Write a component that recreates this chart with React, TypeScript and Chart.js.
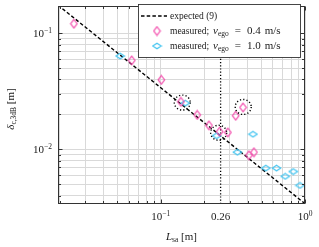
import React, { useEffect, useRef } from 'react';
import { Chart, registerables } from 'chart.js';
Chart.register(...registerables);

const W = 319;
const H = 247;

// axis ranges
const xMin = 0.0194;
const xMax = 1;
const yMin = 0.00338;
const yMax = 0.172;

// grid / tick positions
const xGridValues = [0.02, 0.03, 0.04, 0.05, 0.06, 0.07, 0.08, 0.09, 0.1, 0.2, 0.3, 0.4, 0.5, 0.6, 0.7, 0.8, 0.9, 1];
const yGridValues = [0.004, 0.005, 0.006, 0.007, 0.008, 0.009, 0.01, 0.02, 0.03, 0.04, 0.05, 0.06, 0.07, 0.08, 0.09, 0.1];
const xMajorValues = [0.1, 1];
const yMajorValues = [0.01, 0.1];
const xTickValues = [0.1, 0.26, 1];
const xTickBase = ['10', '0.26', '10'];
const xTickExp = ['−1', '', '0'];
const yTickValues = [0.01, 0.1];
const yTickBase = ['10', '10'];
const yTickExp = ['−2', '−1'];

// expected line (9)
const expectedL = [0.0194, 1];
const expectedDelta = [0.175, 0.0034];
const markerL = 0.26;

// measured, v_ego = 0.4 m/s
const slowL = [0.025, 0.063, 0.101, 0.138, 0.179, 0.216, 0.256, 0.292, 0.331, 0.372, 0.409, 0.443];
const slowDelta = [0.121, 0.0585, 0.0397, 0.0257, 0.0198, 0.0161, 0.0142, 0.014, 0.0195, 0.023, 0.0089, 0.00944];
// measured, v_ego = 1.0 m/s
const fastL = [0.0523, 0.148, 0.244, 0.34, 0.436, 0.535, 0.635, 0.729, 0.829, 0.923];
const fastDelta = [0.0637, 0.025, 0.0131, 0.00944, 0.0135, 0.00689, 0.00689, 0.00585, 0.00644, 0.00489];

// dotted highlight circles
const circledL = [0.141, 0.252, 0.373];
const circledDelta = [0.0253, 0.0139, 0.0232];

const legendLabels = ['expected (9)', 'measured;', 'measured;'];
const legendSpeeds = ['0.4', '1.0'];

const MAGENTA = '#f23fa6';
const CYAN = '#3ec3f0';
const GRID = '#d9d9d9';
const AXIS = '#333333';
const FONT = '"Liberation Serif", "DejaVu Serif", serif';

function diamond(w: number, h: number, color: string): HTMLCanvasElement {
  const c = document.createElement('canvas');
  c.width = Math.ceil(w + 2);
  c.height = Math.ceil(h + 2);
  const g = c.getContext('2d')!;
  const cx = c.width / 2;
  const cy = c.height / 2;
  g.strokeStyle = color;
  g.lineWidth = 1.1;
  g.beginPath();
  g.moveTo(cx, cy - h / 2);
  g.lineTo(cx + w / 2, cy);
  g.lineTo(cx, cy + h / 2);
  g.lineTo(cx - w / 2, cy);
  g.closePath();
  g.stroke();
  return c;
}

type Seg = { t: string; s: number; i?: boolean; dy?: number; gap?: number };

function font(s: number, i?: boolean) {
  return `${i ? 'italic ' : ''}${s}px ${FONT}`;
}

function segsWidth(ctx: CanvasRenderingContext2D, segs: Seg[]) {
  let w = 0;
  for (const sg of segs) {
    ctx.font = font(sg.s, sg.i);
    w += ctx.measureText(sg.t).width + (sg.gap || 0);
  }
  return w;
}

function drawSegs(ctx: CanvasRenderingContext2D, segs: Seg[], x: number, y: number, align: 'left' | 'center' | 'right') {
  const w = segsWidth(ctx, segs);
  let cx = align === 'left' ? x : align === 'center' ? x - w / 2 : x - w;
  ctx.textAlign = 'left';
  ctx.textBaseline = 'alphabetic';
  for (const sg of segs) {
    ctx.font = font(sg.s, sg.i);
    ctx.fillText(sg.t, cx, y + (sg.dy || 0));
    cx += ctx.measureText(sg.t).width + (sg.gap || 0);
  }
}

const decor = {
  id: 'decor',
  afterDatasetsDraw(chart: any) {
    const ctx: CanvasRenderingContext2D = chart.ctx;
    const xs = chart.scales.x;
    const ys = chart.scales.y;
    const a = chart.chartArea;
    ctx.save();
    // highlight circles
    ctx.strokeStyle = '#000';
    ctx.lineWidth = 1.4;
    ctx.setLineDash([1.2, 2.1]);
    for (let k = 0; k < circledL.length; k++) {
      const px = xs.getPixelForValue(circledL[k]);
      const py = ys.getPixelForValue(circledDelta[k]);
      ctx.beginPath();
      ctx.ellipse(px, py, 8, 7.5, 0, 0, Math.PI * 2);
      ctx.stroke();
    }
    ctx.setLineDash([]);
    // axis box
    const l = Math.round(a.left) + 0.5;
    const r = Math.round(a.right) - 0.5;
    const t = Math.round(a.top) + 0.5;
    const b = Math.round(a.bottom) - 0.5;
    ctx.strokeStyle = AXIS;
    ctx.lineWidth = 1;
    ctx.strokeRect(l, t, r - l, b - t);
    // inward ticks
    ctx.beginPath();
    for (const v of xGridValues) {
      const px = Math.round(xs.getPixelForValue(v)) + 0.5;
      const len = xMajorValues.includes(v) ? 4 : 2.5;
      ctx.moveTo(px, b);
      ctx.lineTo(px, b - len);
      ctx.moveTo(px, t);
      ctx.lineTo(px, t + len);
    }
    for (const v of yGridValues) {
      const py = Math.round(ys.getPixelForValue(v)) + 0.5;
      const len = yMajorValues.includes(v) ? 4 : 2.5;
      ctx.moveTo(l, py);
      ctx.lineTo(l + len, py);
      ctx.moveTo(r, py);
      ctx.lineTo(r - len, py);
    }
    ctx.stroke();
    ctx.restore();
  },
  afterDraw(chart: any) {
    const ctx: CanvasRenderingContext2D = chart.ctx;
    const xs = chart.scales.x;
    const ys = chart.scales.y;
    const a = chart.chartArea;
    ctx.save();
    ctx.fillStyle = '#1a1a1a';
    // x tick labels
    for (let k = 0; k < xTickValues.length; k++) {
      const px = xs.getPixelForValue(xTickValues[k]);
      const segs: Seg[] = [{ t: xTickBase[k], s: 11 }];
      if (xTickExp[k]) segs.push({ t: xTickExp[k], s: 7.5, dy: -4.5 });
      drawSegs(ctx, segs, px, a.bottom + 16, 'center');
    }
    // y tick labels
    for (let k = 0; k < yTickValues.length; k++) {
      const py = ys.getPixelForValue(yTickValues[k]);
      const segs: Seg[] = [
        { t: yTickBase[k], s: 11 },
        { t: yTickExp[k], s: 7.5, dy: -4.5 },
      ];
      drawSegs(ctx, segs, a.left - 6, py + 4, 'right');
    }
    // x title
    drawSegs(
      ctx,
      [
        { t: 'L', s: 11, i: true },
        { t: 'sa', s: 7.5, dy: 2 },
        { t: ' [m]', s: 11 },
      ],
      (a.left + a.right) / 2,
      240,
      'center'
    );
    // y title
    ctx.save();
    ctx.translate(14, (a.top + a.bottom) / 2 + 4);
    ctx.rotate(-Math.PI / 2);
    drawSegs(
      ctx,
      [
        { t: 'δ', s: 11, i: true },
        { t: 'c,3dB', s: 7.5, dy: 2 },
        { t: ' [m]', s: 11 },
      ],
      0,
      0,
      'center'
    );
    ctx.restore();

    // legend
    const x0 = 138;
    const y0 = 4;
    const x1 = 300;
    const y1 = 57;
    ctx.fillStyle = '#ffffff';
    ctx.fillRect(x0, y0, x1 - x0, y1 - y0);
    ctx.strokeStyle = AXIS;
    ctx.lineWidth = 0.9;
    ctx.strokeRect(x0 + 0.5, y0 + 0.5, x1 - x0, y1 - y0);
    const rows = [16, 31, 46];
    ctx.strokeStyle = '#000';
    ctx.lineWidth = 1.3;
    ctx.setLineDash([3.5, 2.2]);
    ctx.beginPath();
    ctx.moveTo(141, rows[0]);
    ctx.lineTo(167, rows[0]);
    ctx.stroke();
    ctx.setLineDash([]);
    const dm = diamond(6.5, 8.5, MAGENTA);
    const dc = diamond(8.5, 5.5, CYAN);
    ctx.drawImage(dm, 157 - dm.width / 2, rows[1] - dm.height / 2);
    ctx.drawImage(dc, 157 - dc.width / 2, rows[2] - dc.height / 2);
    ctx.fillStyle = '#1a1a1a';
    const ls = 9.5;
    drawSegs(ctx, [{ t: legendLabels[0], s: ls }], 170, rows[0] + 3, 'left');
    const row = (label: string, v: string): Seg[] => [
      { t: label, s: ls, gap: 4 },
      { t: 'v', s: 11, i: true },
      { t: 'ego', s: 7.5, dy: 2, gap: 6 },
      { t: '=', s: 11, gap: 6 },
      { t: v, s: 11, gap: 4 },
      { t: 'm/s', s: 11 },
    ];
    drawSegs(ctx, row(legendLabels[1], legendSpeeds[0]), 170, rows[1] + 3, 'left');
    drawSegs(ctx, row(legendLabels[2], legendSpeeds[1]), 170, rows[2] + 3, 'left');
    ctx.restore();
  },
};

export default function App() {
  const ref = useRef<HTMLCanvasElement>(null);
  useEffect(() => {
    const canvas = ref.current!;
    const slowImg = diamond(6.5, 8.5, MAGENTA);
    const fastImg = diamond(8.5, 5.5, CYAN);
    const chart = new Chart(canvas, {
      type: 'scatter',
      data: {
        datasets: [
          {
            label: 'measured; v_ego = 0.4 m/s',
            data: slowL.map((x, k) => ({ x, y: slowDelta[k] })),
            pointStyle: slowImg as any,
            pointRadius: 5,
            order: 0,
          },
          {
            label: 'measured; v_ego = 1.0 m/s',
            data: fastL.map((x, k) => ({ x, y: fastDelta[k] })),
            pointStyle: fastImg as any,
            pointRadius: 5,
            order: 1,
          },
          {
            label: 'expected (9)',
            data: expectedL.map((x, k) => ({ x, y: expectedDelta[k] })),
            showLine: true,
            borderColor: '#000',
            borderWidth: 1.4,
            borderDash: [3.5, 2.2],
            pointRadius: 0,
            order: 2,
          },
          {
            label: 'marker',
            data: [
              { x: markerL, y: yMin },
              { x: markerL, y: yMax },
            ],
            showLine: true,
            borderColor: '#000',
            borderWidth: 1.3,
            borderDash: [1.2, 2],
            pointRadius: 0,
            order: 3,
          },
        ] as any,
      },
      options: {
        responsive: false,
        animation: false,
        devicePixelRatio: 1,
        layout: { padding: { top: 1, right: 14, left: 0, bottom: 0 } },
        plugins: { legend: { display: false }, tooltip: { enabled: false } },
        scales: {
          x: {
            type: 'logarithmic',
            min: xMin,
            max: xMax,
            afterBuildTicks: (s: any) => {
              s.ticks = xGridValues.map((v) => ({ value: v }));
            },
            afterFit: (s: any) => {
              s.height = 43;
            },
            ticks: { display: false },
            grid: { color: GRID, lineWidth: 1, drawTicks: false },
            border: { display: false },
          },
          y: {
            type: 'logarithmic',
            min: yMin,
            max: yMax,
            afterBuildTicks: (s: any) => {
              s.ticks = yGridValues.map((v) => ({ value: v }));
            },
            afterFit: (s: any) => {
              s.width = 58;
            },
            ticks: { display: false },
            grid: { color: GRID, lineWidth: 1, drawTicks: false },
            border: { display: false },
          },
        },
      } as any,
      plugins: [decor],
    });
    return () => chart.destroy();
  }, []);
  return (
    <div style={{ position: 'fixed', left: 0, top: 0, width: W, height: H, background: '#fff' }}>
      <canvas ref={ref} width={W} height={H} style={{ display: 'block', width: W, height: H }} />
    </div>
  );
}
